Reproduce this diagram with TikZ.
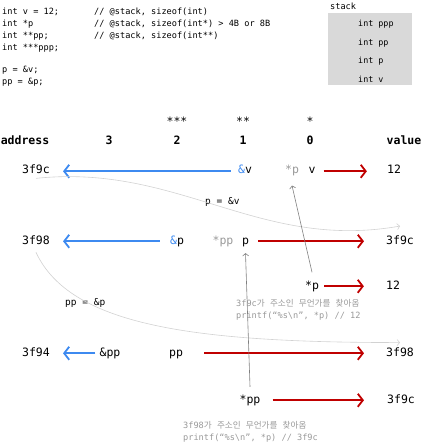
\documentclass[tikz,border=0pt]{standalone}
\usepackage{fontspec}
\setmainfont{DejaVu Sans Mono}
\newfontfamily\kr{Noto Sans CJK KR}
\usetikzlibrary{arrows.meta}
\definecolor{ablue}{HTML}{3D8AF0}
\definecolor{ared}{HTML}{C00000}
\definecolor{txtgray}{HTML}{999999}
\definecolor{linegray}{HTML}{808080}
\definecolor{curvegray}{HTML}{D2D2D2}
\definecolor{boxgray}{HTML}{D9D9D9}
\begin{document}
\begin{tikzpicture}[x=1pt,y=-1pt,
  lbl/.style={font=\fontsize{11.5}{13}\selectfont, inner sep=1pt, anchor=base},
  hdr/.style={lbl, font=\fontsize{11.5}{13}\selectfont\bfseries},
  glbl/.style={lbl, text=txtgray},
  code/.style={font=\fontsize{8.6}{10}\selectfont, inner sep=0pt, anchor=base west},
  stk/.style={font=\fontsize{8.4}{10}\selectfont, inner sep=0pt, anchor=base west},
  note/.style={font=\fontsize{8.6}{10}\selectfont, text=txtgray, inner sep=0pt, anchor=base west},
  asg/.style={font=\fontsize{9.5}{11}\selectfont, inner sep=0pt, anchor=base west},
  barrow/.style={draw=ablue, line width=1.8pt, -{Straight Barb[length=5pt,width=13pt]}},
  rarrow/.style={draw=ared, line width=1.8pt, -{Straight Barb[length=5pt,width=13pt]}},
  garrow/.style={draw=linegray, line width=0.6pt, -{Straight Barb[length=2.5pt,width=6pt]}},
  carrow/.style={draw=curvegray, line width=0.6pt, -{Straight Barb[length=2.5pt,width=6pt]}}
]
\useasboundingbox (0,0) rectangle (422,443);

% code
\node[code] (c1) at (2,14.5) {int v = 12;};
\node[code] (c1c) at (94,14.5) {// @stack, sizeof(int)};
\node[code] (c2) at (2,26.5) {int *p};
\node[code] (c2c) at (94,26.5) {// @stack, sizeof(int*) > 4B or 8B};
\node[code] (c3) at (2,38.5) {int **pp;};
\node[code] (c3c) at (94,38.5) {// @stack, sizeof(int**)};
\node[code] (c4) at (2,50.5) {int ***ppp;};
\node[code] (c5) at (2,73) {p = \&v;};
\node[code] (c6) at (2,85) {pp = \&p;};

% stack
\node[code] (stacklbl) at (330,9.5) {stack};
\node[fill=boxgray, minimum width=84pt, minimum height=72pt, inner sep=0pt, anchor=north west] (stackbox) at (328,13) {};
\node[stk] (s1) at (358,27) {int ppp};
\node[stk] (s2) at (358,45.5) {int pp};
\node[stk] (s3) at (358,64) {int p};
\node[stk] (s4) at (358,82.5) {int v};

% headers
\node[lbl] (st3) at (177,125.4) {***};
\node[lbl] (st2) at (243,125.4) {**};
\node[lbl] (st1) at (310,125.4) {*};
\node[hdr] (haddr) at (25,145) {address};
\node[hdr] (h3) at (109,145) {3};
\node[hdr] (h2) at (177,145) {2};
\node[hdr] (h1) at (243,145) {1};
\node[hdr] (h0) at (310,145) {0};
\node[hdr] (hval) at (404,145) {value};

% row 1
\node[lbl] (a1) at (36,174) {3f9c};
\node[lbl] (amp1) at (245,174) {{\color{ablue}\&}v};
\node[glbl] (sp1) at (292,174) {*p};
\node[lbl] (v1) at (312,174) {v};
\node[lbl] (val1) at (394,174) {12};

% row 2
\node[lbl] (a2) at (36,244) {3f98};
\node[lbl] (amp2) at (177,244) {{\color{ablue}\&}p};
\node[glbl] (spp2) at (223,244) {*pp};
\node[lbl] (p2) at (245.5,244) {p};
\node[lbl] (val2) at (400,244) {3f9c};

% row 3
\node[lbl] (sp3) at (312,289) {*p};
\node[lbl] (val3) at (393,289) {12};

% row 4
\node[lbl] (a4) at (36,356) {3f94};
\node[lbl] (amp4) at (110,356) {\&pp};
\node[lbl] (pp4) at (176,356) {pp};
\node[lbl] (val4) at (400,356) {3f98};

% row 5
\node[lbl] (spp5) at (250,403) {*pp};
\node[lbl] (val5) at (401,403) {3f9c};

% assignments
\node[asg] (asg1) at (205,204.5) {p = \&v};
\node[asg] (asg2) at (65,305) {pp = \&p};

% notes
\node[note] (n1a) at (236,306.5) {3f9c{\kr 가} {\kr 주소인} {\kr 무언가를} {\kr 찾아옴}};
\node[note] (n1b) at (236,318.5) {printf(“\%s\textbackslash n”, *p) // 12};
\node[note] (n2a) at (183,428) {3f98{\kr 가} {\kr 주소인} {\kr 무언가를} {\kr 찾아옴}};
\node[note] (n2b) at (183,440) {printf(“\%s\textbackslash n”, *p) // 3f9c};

% blue arrows
\draw[barrow, shorten <=6pt, shorten >=12pt] (amp1.mid west) -- (a1.mid east);
\draw[barrow, shorten <=9pt, shorten >=12pt] (amp2.mid west) -- (a2.mid east);
\draw[barrow, shorten <=3pt, shorten >=12pt] (amp4.mid west) -- (a4.mid east);

% red arrows
\draw[rarrow, shorten <=7pt, shorten >=19pt] (v1.mid east) -- (val1.mid west);
\draw[rarrow, shorten <=8pt, shorten >=21pt] (p2.mid east) -- (val2.mid west);
\draw[rarrow, shorten <=4pt, shorten >=21pt] (sp3.mid east) -- (val3.mid west);
\draw[rarrow, shorten <=20pt, shorten >=21pt] (pp4.mid east) -- (val4.mid west);
\draw[rarrow, shorten <=11pt, shorten >=22pt] (spp5.mid east) -- (val5.mid west);

% light curves
\draw[carrow] ([yshift=-3pt]a1.south) to[out=6, in=190] ([yshift=8pt]val2.north);
\draw[carrow] ([yshift=-7pt]a2.south) .. controls +(65:80) and +(180:210) .. ([yshift=3.5pt]val4.north);

% dereference arrows
\draw[garrow] ([yshift=7pt]sp3.north) -- ([yshift=-8pt]sp1.south);
\draw[garrow] ([yshift=6.5pt]spp5.north) -- ([yshift=-5.5pt]p2.south);
\end{tikzpicture}
\end{document}
